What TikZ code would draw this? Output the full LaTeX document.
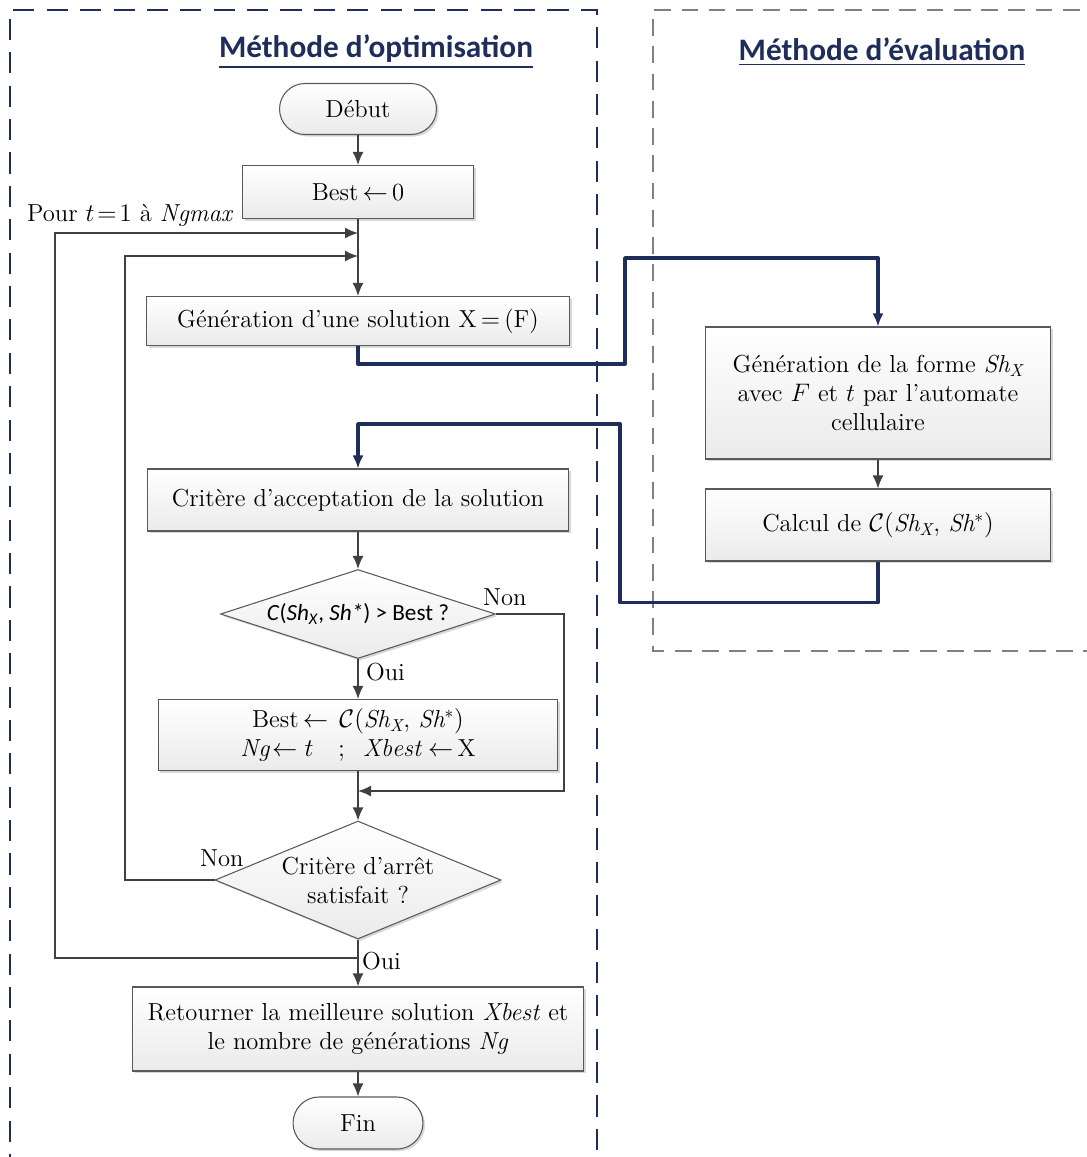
\documentclass[tikz,border=0pt]{standalone}
\usepackage{fontspec}
\usepackage{amsmath}
\usepackage{amssymb}
\usepackage{xcolor}
\usepackage{tikz}
\usetikzlibrary{positioning,shapes.geometric,shapes.misc,arrows.meta,shadows,calc}
\newfontfamily\calibri{Carlito}
\definecolor{navy}{HTML}{1F2D5A}
\definecolor{wire}{HTML}{404040}
\tikzset{
  % --- boxes -------------------------------------------------------------------
  proc/.style={rectangle,draw=black!65,line width=0.6pt,top color=white,
               bottom color=black!8,align=center,inner sep=2pt,
               drop shadow={shadow xshift=1.2pt,shadow yshift=-1.2pt,
                            fill=black!30,opacity=0.5},
               font=\fontsize{14}{16.5}\selectfont},
  term/.style={proc,rounded rectangle},
  dec/.style={proc,diamond,inner sep=0pt},
  % --- connectors --------------------------------------------------------------
  flow/.style={wire,line width=0.9pt},
  link/.style={navy,line width=2.2pt,line join=round},
  lbl/.style={font=\fontsize{14}{16.5}\selectfont,inner sep=1pt},
  title/.style={navy,font=\calibri\bfseries\fontsize{17.8}{21}\selectfont,inner sep=0pt},
}

\begin{document}
\begin{tikzpicture}[
    >={Latex[length=2.6mm,width=2.2mm]},
    x=0.02cm, y=-0.02cm]

  \useasboundingbox (0,0) rectangle (1087,1157);

  % frames
  \draw[navy,line width=1.6pt,dash pattern=on 12pt off 7pt]
    (10,1175) -- (10,10) -- (597,10) -- (597,1175);
  \draw[black!50,line width=1.6pt,dash pattern=on 9.5pt off 6pt]
    (1100,651) -- (653,651) -- (653,10) -- (1100,10);
  \node[title] (topt) at (376,52) {\underline{Méthode d’optimisation}};
  \node[title] (teval) at (882,52) {\underline{Méthode d’évaluation}};

  % optimisation side
  \node[term,minimum width=3.28cm,minimum height=1.02cm] (debut) at (358,109) {Début};
  \node[proc,minimum width=4.62cm,minimum height=1.06cm] (best) at (358,192) {Best$\,\leftarrow\,$0};
  \node[proc,minimum width=8.46cm,minimum height=0.98cm] (gen) at (358,321)
    {Génération d’une solution X$\,=\,$(F)};
  \node[proc,minimum width=8.42cm,minimum height=1.24cm] (crit) at (358,500)
    {Critère d’acceptation de la solution};
  \node[dec,aspect=3,minimum width=5.5cm,minimum height=1.78cm] (d1) at (358,614)
    {\calibri\fontsize{13.2}{15}\selectfont\textit{C}(\textit{Sh}$_{\textit{X}}$, \textit{Sh*}) > Best ?};
  \node[proc,minimum width=8cm,minimum height=1.42cm] (upd) at (358,735)
    {Best$\,\leftarrow\,\mathcal{C}(\mathit{Sh_X},\,\mathit{Sh^*})$\\
     $\mathit{Ng}\!\leftarrow t\quad;\;\;\mathit{Xbest}\leftarrow$\,X};
  \node[dec,aspect=2.4,minimum width=5.72cm,minimum height=2.36cm] (d2) at (358,880)
    {Critère d’arrêt\\satisfait ?};
  \node[proc,minimum width=9.02cm,minimum height=1.68cm] (ret) at (358,1029)
    {Retourner la meilleure solution \textit{Xbest} et\\
     le nombre de générations \textit{Ng}};
  \node[term,minimum width=2.74cm,minimum height=1.04cm] (fin) at (358,1123) {Fin};

  % evaluation side
  \node[proc,minimum width=6.9cm,minimum height=2.64cm] (shape) at (878,393)
    {Génération de la forme $\mathit{Sh_X}$\\
     avec $F$ et $t$ par l’automate\\cellulaire};
  \node[proc,minimum width=6.9cm,minimum height=1.44cm] (calc) at (878,525)
    {Calcul de $\mathcal{C}(\mathit{Sh_X},\,\mathit{Sh^*})$};

  \node[lbl,anchor=south west] (pour) at (25,229) {Pour $t\!=\!1$ à \textit{Ngmax}};
  \node[lbl,anchor=west] (non1) at (481,597) {Non};
  \node[lbl,anchor=west] (oui1) at (364,672) {Oui};
  \node[lbl,anchor=west] (non2) at (198,858) {Non};
  \node[lbl,anchor=west] (oui2) at (360,961) {Oui};

  \coordinate (in1) at (358,233);
  \coordinate (in2) at (358,256);
  \coordinate (back1) at (55,958);
  \coordinate (back2) at (125,256);
  \coordinate (skip) at (564,791);
  \coordinate (merge) at (358,791);
  \coordinate (via1) at (625,258);
  \coordinate (via2) at (620,424);

  \draw[flow,->] (debut) -- (best);
  \draw[flow,->] (best) -- (gen);
  \draw[flow,->] (crit) -- (d1);
  \draw[flow,->] (d1) -- (upd);
  \draw[flow,->] (upd) -- (d2);
  \draw[flow,->] (d2) -- (ret);
  \draw[flow,->] (ret) -- (fin);
  \draw[flow,->] (shape) -- (calc);
  \draw[flow,->] (d1.east) -| (skip) -- (merge);
  \draw[flow,->] (d2.west) -| (back2) -- (in2);
  \draw[flow,->] (d2.south) |- (back1) |- (in1);

  \draw[link,->] (gen.south) -- ++(0,18) -| (via1) -| (shape.north);
  \draw[link,->] (calc.south) -- ++(0,41) -| (via2) -| (crit.north);
\end{tikzpicture}
\end{document}
